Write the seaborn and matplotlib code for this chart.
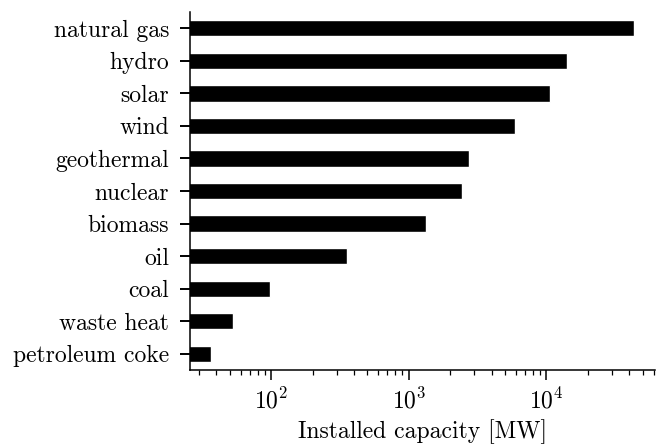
import matplotlib
matplotlib.use("Agg")
import matplotlib.pyplot as plt
import seaborn as sns
import pandas as pd

# Installed capacity by energy source (MW)
sources = ["natural gas", "hydro", "solar", "wind", "geothermal", "nuclear",
           "biomass", "oil", "coal", "waste heat", "petroleum coke"]
capacity_mw = [43200, 14000, 10600, 5950, 2730, 2430, 1330, 357, 98, 53, 36.6]

df = pd.DataFrame({"source": sources, "capacity": capacity_mw})

FS = 17

sns.set_theme(style="ticks")
plt.rcParams.update({
    "font.family": "cmr10",
    "mathtext.fontset": "cm",
    "axes.formatter.use_mathtext": True,
    "axes.unicode_minus": False,
    "font.size": FS,
    "text.color": "black",
    "axes.labelcolor": "black",
    "axes.linewidth": 1.1,
    "xtick.major.size": 7,
    "xtick.minor.size": 3.8,
    "ytick.major.size": 7,
    "xtick.major.width": 1.1,
    "xtick.minor.width": 0.9,
    "ytick.major.width": 1.4,
    "xtick.major.pad": 6,
    "ytick.major.pad": 8,
    "xtick.color": "black",
    "ytick.color": "black",
    "axes.edgecolor": "black",
})

fig, ax = plt.subplots(figsize=(6.57, 4.45), dpi=100)
fig.subplots_adjust(left=0.289, right=0.997, top=0.973, bottom=0.1685)

sns.barplot(data=df, x="capacity", y="source", orient="h", color="black",
            width=0.5, saturation=1, ax=ax)
ax.set_xscale("log")
ax.relim()
ax.autoscale_view(scalex=True, scaley=False)
ax.set_ylim(len(sources) - 0.5, -0.5)

ax.set_ylabel("")
ax.set_xlabel("Installed capacity [MW]", fontsize=FS, labelpad=4)
ax.tick_params(axis="both", labelsize=FS)
ax.tick_params(axis="y", which="major", left=True, length=7, width=1.4,
               color="black", pad=8)
sns.despine(ax=ax)

fig.savefig("out.png", dpi=100)
